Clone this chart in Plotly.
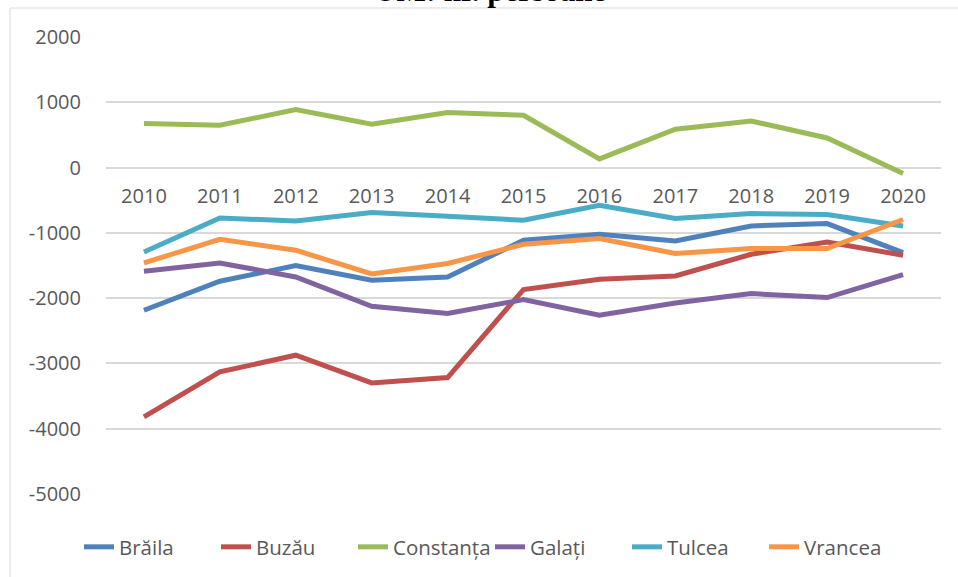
import plotly.graph_objects as go

years = ["2010", "2011", "2012", "2013", "2014", "2015", "2016", "2017", "2018", "2019", "2020"]

braila = [-2185, -1741, -1501, -1726, -1675, -1113, -1021, -1124, -894, -858, -1302]
buzau = [-3819, -3130, -2874, -3299, -3216, -1868, -1711, -1660, -1328, -1139, -1343]
constanta = [674, 648, 888, 663, 842, 801, 132, 587, 714, 453, -92]
galati = [-1588, -1461, -1675, -2124, -2236, -2022, -2262, -2073, -1930, -1991, -1639]
tulcea = [-1292, -772, -818, -689, -746, -807, -577, -781, -704, -720, -894]
vrancea = [-1461, -1098, -1266, -1629, -1470, -1175, -1088, -1317, -1241, -1241, -796]

series = [
    ("Brăila", braila, "#4F81BD"),
    ("Buzău", buzau, "#C0504D"),
    ("Constanța", constanta, "#9BBB59"),
    ("Galați", galati, "#8064A2"),
    ("Tulcea", tulcea, "#4BACC6"),
    ("Vrancea", vrancea, "#F79646"),
]

y_ticks = [2000, 1000, 0, -1000, -2000, -3000, -4000, -5000]
y_ticktext = [str(v) for v in y_ticks]
title_text = "UM: nr. persoane"

W, H = 958, 577
ml, mr, mt, mb = 106, 17, 37, 83
pw = W - ml - mr
ph = H - mt - mb

fig = go.Figure()
for name, vals, col in series:
    fig.add_trace(go.Scatter(
        x=years, y=vals, name=name, mode="lines",
        line=dict(color=col, width=5),
    ))

font_fam = "Open Sans"
txt_col = "#595959"

fig.update_layout(
    width=W, height=H,
    margin=dict(l=ml, r=mr, t=mt, b=mb, autoexpand=False),
    plot_bgcolor="white", paper_bgcolor="white",
    font=dict(family=font_fam, color=txt_col, size=20),
    showlegend=True,
    legend=dict(
        orientation="h", x=(490 - ml) / pw, xanchor="center",
        y=-(547 - (mt + ph)) / ph,
        yanchor="middle",
        font=dict(size=20.5, color=txt_col, family=font_fam),
        itemwidth=30, tracegroupgap=0,
        entrywidth=92, entrywidthmode="pixels",
    ),
    xaxis=dict(
        type="category", range=[-0.5, len(years) - 0.5],
        showgrid=False, zeroline=False, showline=False,
        anchor="free", position=5 / 7, automargin=False,
        ticks="outside", ticklen=10, tickcolor="rgba(0,0,0,0)",
        tickfont=dict(size=20, color=txt_col, family=font_fam),
    ),
    yaxis=dict(
        range=[-5000, 2000], tickvals=y_ticks, ticktext=y_ticktext,
        showgrid=True, automargin=False,
        gridcolor="#D9D9D9", gridwidth=1.5, zeroline=False, showline=False,
        ticks="outside", ticklen=20, tickcolor="rgba(0,0,0,0)",
        tickfont=dict(size=20, color=txt_col, family=font_fam),
    ),
)

# chart border (partially cropped, as in reference)
fig.add_shape(type="rect", xref="paper", yref="paper",
              x0=(10 - ml) / pw, x1=(W + 5 - ml) / pw,
              y0=-(H + 5 - (mt + ph)) / ph, y1=(mt + ph - 8) / ph,
              line=dict(color="#D9D9D9", width=1), layer="below")

# cropped title
fig.add_annotation(text="<b>" + title_text + "</b>", xref="paper", yref="paper",
                   x=(490 - ml) / pw, y=(mt + ph + 10) / ph, xanchor="center", yanchor="middle",
                   showarrow=False, font=dict(family="Liberation Serif", size=31, color="#000000"))

fig.write_html("out.html", config={"displayModeBar": False},
               post_script="document.body.style.margin='0';")
